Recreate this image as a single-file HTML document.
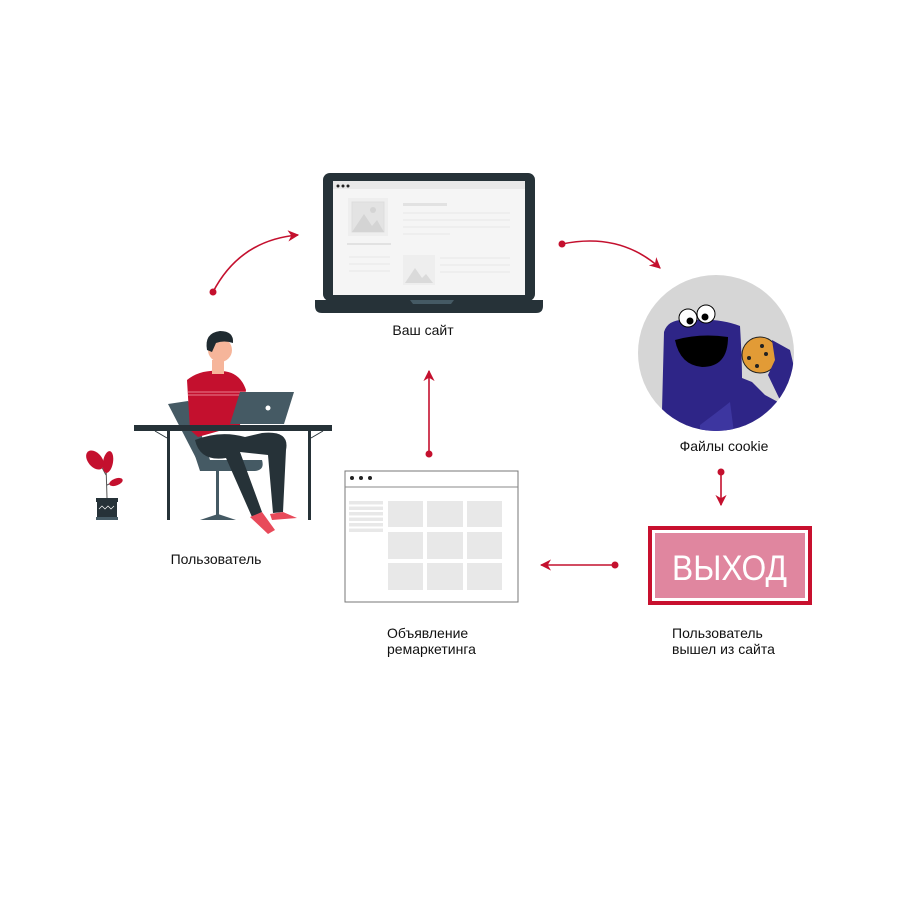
<!DOCTYPE html>
<html><head><meta charset="utf-8"><style>
body{margin:0;background:#fff}
svg text{font-family:"Liberation Sans",sans-serif;fill:#111}
</style></head><body>
<svg width="900" height="900" viewBox="0 0 900 900" xmlns="http://www.w3.org/2000/svg">
<defs>
<marker id="ah" viewBox="0 0 10 10" refX="9" refY="5" markerWidth="7" markerHeight="7" orient="auto"><path d="M0,0 L10,5 L0,10 L3,5 Z" fill="#c4102e"/></marker>
</defs>
<rect width="900" height="900" fill="#fff"/>
<!-- laptop -->
<rect x="323" y="173" width="212" height="128" rx="7" fill="#263238"/>
<rect x="333" y="181" width="192" height="114" fill="#f5f5f5"/>
<rect x="333" y="181" width="192" height="8" fill="#e8e8e8"/>
<circle cx="338" cy="186" r="1.5" fill="#222"/><circle cx="343" cy="186" r="1.5" fill="#222"/><circle cx="348" cy="186" r="1.5" fill="#222"/>
<rect x="348" y="198" width="40" height="38" fill="#eeeeee"/>
<rect x="352" y="202" width="32" height="30" fill="#e3e3e3" stroke="#ddd"/>
<path d="M352,232 L364,214 L372,226 L377,220 L384,232Z" fill="#d4d4d4"/>
<circle cx="373" cy="210" r="3" fill="#d4d4d4"/>
<rect x="347" y="243" width="44" height="2" fill="#e2e2e2"/>
<rect x="403" y="203" width="44" height="3" fill="#e2e2e2"/>
<g stroke="#e8e8e8"><line x1="403" y1="213" x2="510" y2="213"/><line x1="403" y1="220" x2="510" y2="220"/><line x1="403" y1="227" x2="510" y2="227"/><line x1="403" y1="234" x2="450" y2="234"/><line x1="349" y1="257" x2="390" y2="257"/><line x1="349" y1="264" x2="390" y2="264"/><line x1="349" y1="271" x2="390" y2="271"/><line x1="440" y1="258" x2="510" y2="258"/><line x1="440" y1="265" x2="510" y2="265"/><line x1="440" y1="272" x2="510" y2="272"/></g>
<rect x="403" y="255" width="32" height="30" fill="#eeeeee"/>
<path d="M405,283 L415,268 L422,278 L426,274 L433,283Z" fill="#dadada"/>
<path d="M315,300 L543,300 L543,306 Q543,313 536,313 L322,313 Q315,313 315,306Z" fill="#263238"/>
<path d="M410,300 L454,300 L451,304 L413,304Z" fill="#455a64"/>
<text x="423" y="335" font-size="14" text-anchor="middle">Ваш сайт</text>
<!-- arrows -->
<path d="M213,292 Q240,240 298,235" fill="none" stroke="#c4102e" stroke-width="1.6" marker-end="url(#ah)"/>
<circle cx="213" cy="292" r="3.5" fill="#c4102e"/>
<path d="M562,244 Q620,232 660,268" fill="none" stroke="#c4102e" stroke-width="1.6" marker-end="url(#ah)"/>
<circle cx="562" cy="244" r="3.5" fill="#c4102e"/>
<line x1="721" y1="472" x2="721" y2="505" stroke="#c4102e" stroke-width="1.6" marker-end="url(#ah)"/>
<circle cx="721" cy="472" r="3.5" fill="#c4102e"/>
<line x1="615" y1="565" x2="541" y2="565" stroke="#c4102e" stroke-width="1.6" marker-end="url(#ah)"/>
<circle cx="615" cy="565" r="3.5" fill="#c4102e"/>
<line x1="429" y1="454" x2="429" y2="371" stroke="#c4102e" stroke-width="1.6" marker-end="url(#ah)"/>
<circle cx="429" cy="454" r="3.5" fill="#c4102e"/>
<!-- cookie circle -->
<clipPath id="cc"><circle cx="716" cy="353" r="78"/></clipPath>
<circle cx="716" cy="353" r="78" fill="#d6d6d6"/>
<g clip-path="url(#cc)">
<path d="M664,332 Q668,318 690,320 Q720,318 740,326 Q742,360 742,378 L752,382 L765,395 L778,402 L795,380 L800,440 L640,440 L662,410 Z" fill="#2e2587"/>
<path d="M675,340 Q700,333 728,337 Q728,367 702,367 Q680,365 675,340Z" fill="#000"/>
<circle cx="688" cy="318" r="9" fill="#fff" stroke="#000"/><circle cx="706" cy="314" r="9" fill="#fff" stroke="#000"/>
<circle cx="690" cy="321" r="3.5" fill="#000"/><circle cx="705" cy="317" r="3.5" fill="#000"/>
<circle cx="760" cy="355" r="18" fill="#e29b36" stroke="#222"/>
<circle cx="749" cy="358" r="2" fill="#222"/><circle cx="762" cy="346" r="2" fill="#222"/><circle cx="757" cy="366" r="2" fill="#222"/><circle cx="766" cy="354" r="2" fill="#222"/>
<path d="M772,340 L790,350 L797,380 L780,400 L768,375 L775,360Z" fill="#2e2587"/>
<path d="M700,425 Q720,410 730,402 L735,440 L700,440Z" fill="#3d36a0"/>
</g>
<text x="724" y="451" font-size="14" text-anchor="middle">Файлы cookie</text>
<!-- exit -->
<rect x="648" y="526" width="164" height="79" fill="#c8102e"/>
<rect x="652" y="530" width="156" height="71" fill="#fff"/>
<rect x="655" y="533" width="150" height="65" fill="#e0869f"/>
<text x="672" y="580" font-size="35" textLength="115" lengthAdjust="spacingAndGlyphs" style="fill:#fff">ВЫХОД</text>
<text x="672" y="638" font-size="14">Пользователь</text>
<text x="672" y="654" font-size="14">вышел из сайта</text>
<!-- ad browser -->
<rect x="345" y="471" width="173" height="131" fill="#fff" stroke="#777" stroke-width="1"/>
<line x1="345" y1="487" x2="518" y2="487" stroke="#888"/>
<circle cx="352" cy="478" r="2" fill="#222"/><circle cx="361" cy="478" r="2" fill="#222"/><circle cx="370" cy="478" r="2" fill="#222"/>
<g fill="#e8e8e8">
<rect x="349" y="501" width="34" height="3.5"/><rect x="349" y="506.5" width="34" height="3.5"/><rect x="349" y="512" width="34" height="3.5"/><rect x="349" y="517.5" width="34" height="3.5"/><rect x="349" y="523" width="34" height="3.5"/><rect x="349" y="528.5" width="34" height="3.5"/>
<rect x="388" y="501" width="35" height="26"/><rect x="427" y="501" width="36" height="26"/><rect x="467" y="501" width="35" height="26"/>
<rect x="388" y="532" width="35" height="27"/><rect x="427" y="532" width="36" height="27"/><rect x="467" y="532" width="35" height="27"/>
<rect x="388" y="563" width="35" height="27"/><rect x="427" y="563" width="36" height="27"/><rect x="467" y="563" width="35" height="27"/>
</g>
<text x="387" y="638" font-size="14">Объявление</text>
<text x="387" y="654" font-size="14">ремаркетинга</text>
<!-- person -->
<path d="M168,404 L188,401 L205,455 L198,462Z" fill="#455a64"/>
<path d="M178,404 L190,401 L210,460 L262,460 Q265,470 255,471 L200,471Z" fill="#455a64"/>
<rect x="216" y="470" width="3" height="46" fill="#455a64"/>
<path d="M200,520 L218,514 L236,520Z" fill="#455a64"/>
<path d="M187,380 Q200,369 222,371 Q240,372 246,390 L240,425 L198,437 L190,430Z" fill="#c4102e"/>
<g stroke="#f3a3b0" stroke-width="0.8"><line x1="188" y1="392" x2="246" y2="392"/><line x1="188" y1="395" x2="246" y2="395"/></g>
<rect x="212" y="360" width="12" height="14" fill="#f6b59a"/>
<circle cx="220" cy="350" r="12" fill="#f6b59a"/>
<path d="M207,350 Q204,333 220,331 Q234,331 233,343 Q224,340 216,343 L212,352Z" fill="#1f2a30"/>
<path d="M195,440 Q220,430 245,437 L262,433 Q290,430 286,450 L283,512 L273,513 L268,455 L240,452 L262,512 L252,517 L226,458 Q200,462 195,440Z" fill="#263238"/>
<path d="M250,517 L262,512 L275,530 L268,534Z" fill="#e84a5a"/>
<path d="M270,514 L283,512 L297,518 L272,520Z" fill="#e84a5a"/>
<path d="M240,392 L294,392 L284,424 L230,424Z" fill="#455a64"/>
<circle cx="268" cy="408" r="2.5" fill="#fff"/>
<rect x="134" y="425" width="198" height="6" fill="#263238"/>
<rect x="167" y="431" width="3" height="89" fill="#263238"/><rect x="308" y="431" width="3" height="89" fill="#263238"/>
<line x1="155" y1="431" x2="167" y2="438" stroke="#263238"/><line x1="311" y1="438" x2="323" y2="431" stroke="#263238"/>
<text x="216" y="564" font-size="14" text-anchor="middle">Пользователь</text>
<!-- plant -->
<path d="M107,498 L106,465 M106,475 L98,460 M107,485 L118,480" stroke="#555" stroke-width="1" fill="none"/>
<ellipse cx="95" cy="460" rx="7" ry="11" transform="rotate(-40 95 460)" fill="#c4102e"/>
<ellipse cx="108" cy="462" rx="5" ry="11" transform="rotate(10 108 462)" fill="#c4102e"/>
<ellipse cx="116" cy="482" rx="7" ry="3.5" transform="rotate(-20 116 482)" fill="#c4102e"/>
<rect x="96" y="498" width="22" height="4" fill="#263238"/>
<rect x="97" y="502" width="20" height="15" fill="#263238"/>
<path d="M99,509 l3,-3 l3,3 l3,-3 l3,3 l3,-3" stroke="#fff" stroke-width="0.7" fill="none"/>
<rect x="96" y="517" width="22" height="3" fill="#455a64"/>
</svg>
</body></html>
